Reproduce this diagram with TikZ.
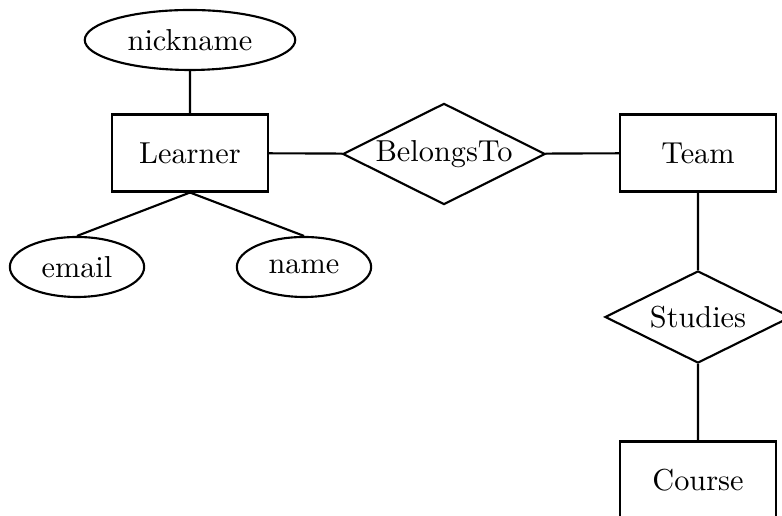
\documentclass[tikz,border=0pt]{standalone}
\usetikzlibrary{shapes.geometric}
\begin{document}
\begin{tikzpicture} [x=0.33pt, y=-0.33pt, line width=0.7pt]
\tikzstyle{entity}=[draw,shape=rectangle,minimum width=51.2pt,minimum height=25.4pt];
\tikzstyle{attr}=[draw,shape=ellipse,inner xsep=4pt,minimum height=19.8pt];
\tikzstyle{rel}=[draw,shape=diamond,aspect=2,inner sep=0.6pt,minimum width=61.4pt,minimum height=30.4pt];
\useasboundingbox (0,0) rectangle (782,516);
\node [entity] (learner) at (190,153) {Learner};
\node [entity] (team) at (698,153) {Team};
\node [entity] (course) at (698,480) {Course};
\node [attr] (nickname) at (190,40) {nickname};
\node [attr] (email) at (77,267) {email};
\node [attr] (name) at (304,267) {name};
\node [rel] (belongs) at (444,154) {BelongsTo};
\node [rel] (studies) at (698,317) {Studies};
\draw (nickname) -- (learner) % attributes
(learner.south) -- (email.north)
(learner.south) -- (name.north);
\draw (learner) -- (belongs) % relations
(belongs) -- (team)
(team) -- (studies)
(studies) -- (course);
\end{tikzpicture}
\end{document}
